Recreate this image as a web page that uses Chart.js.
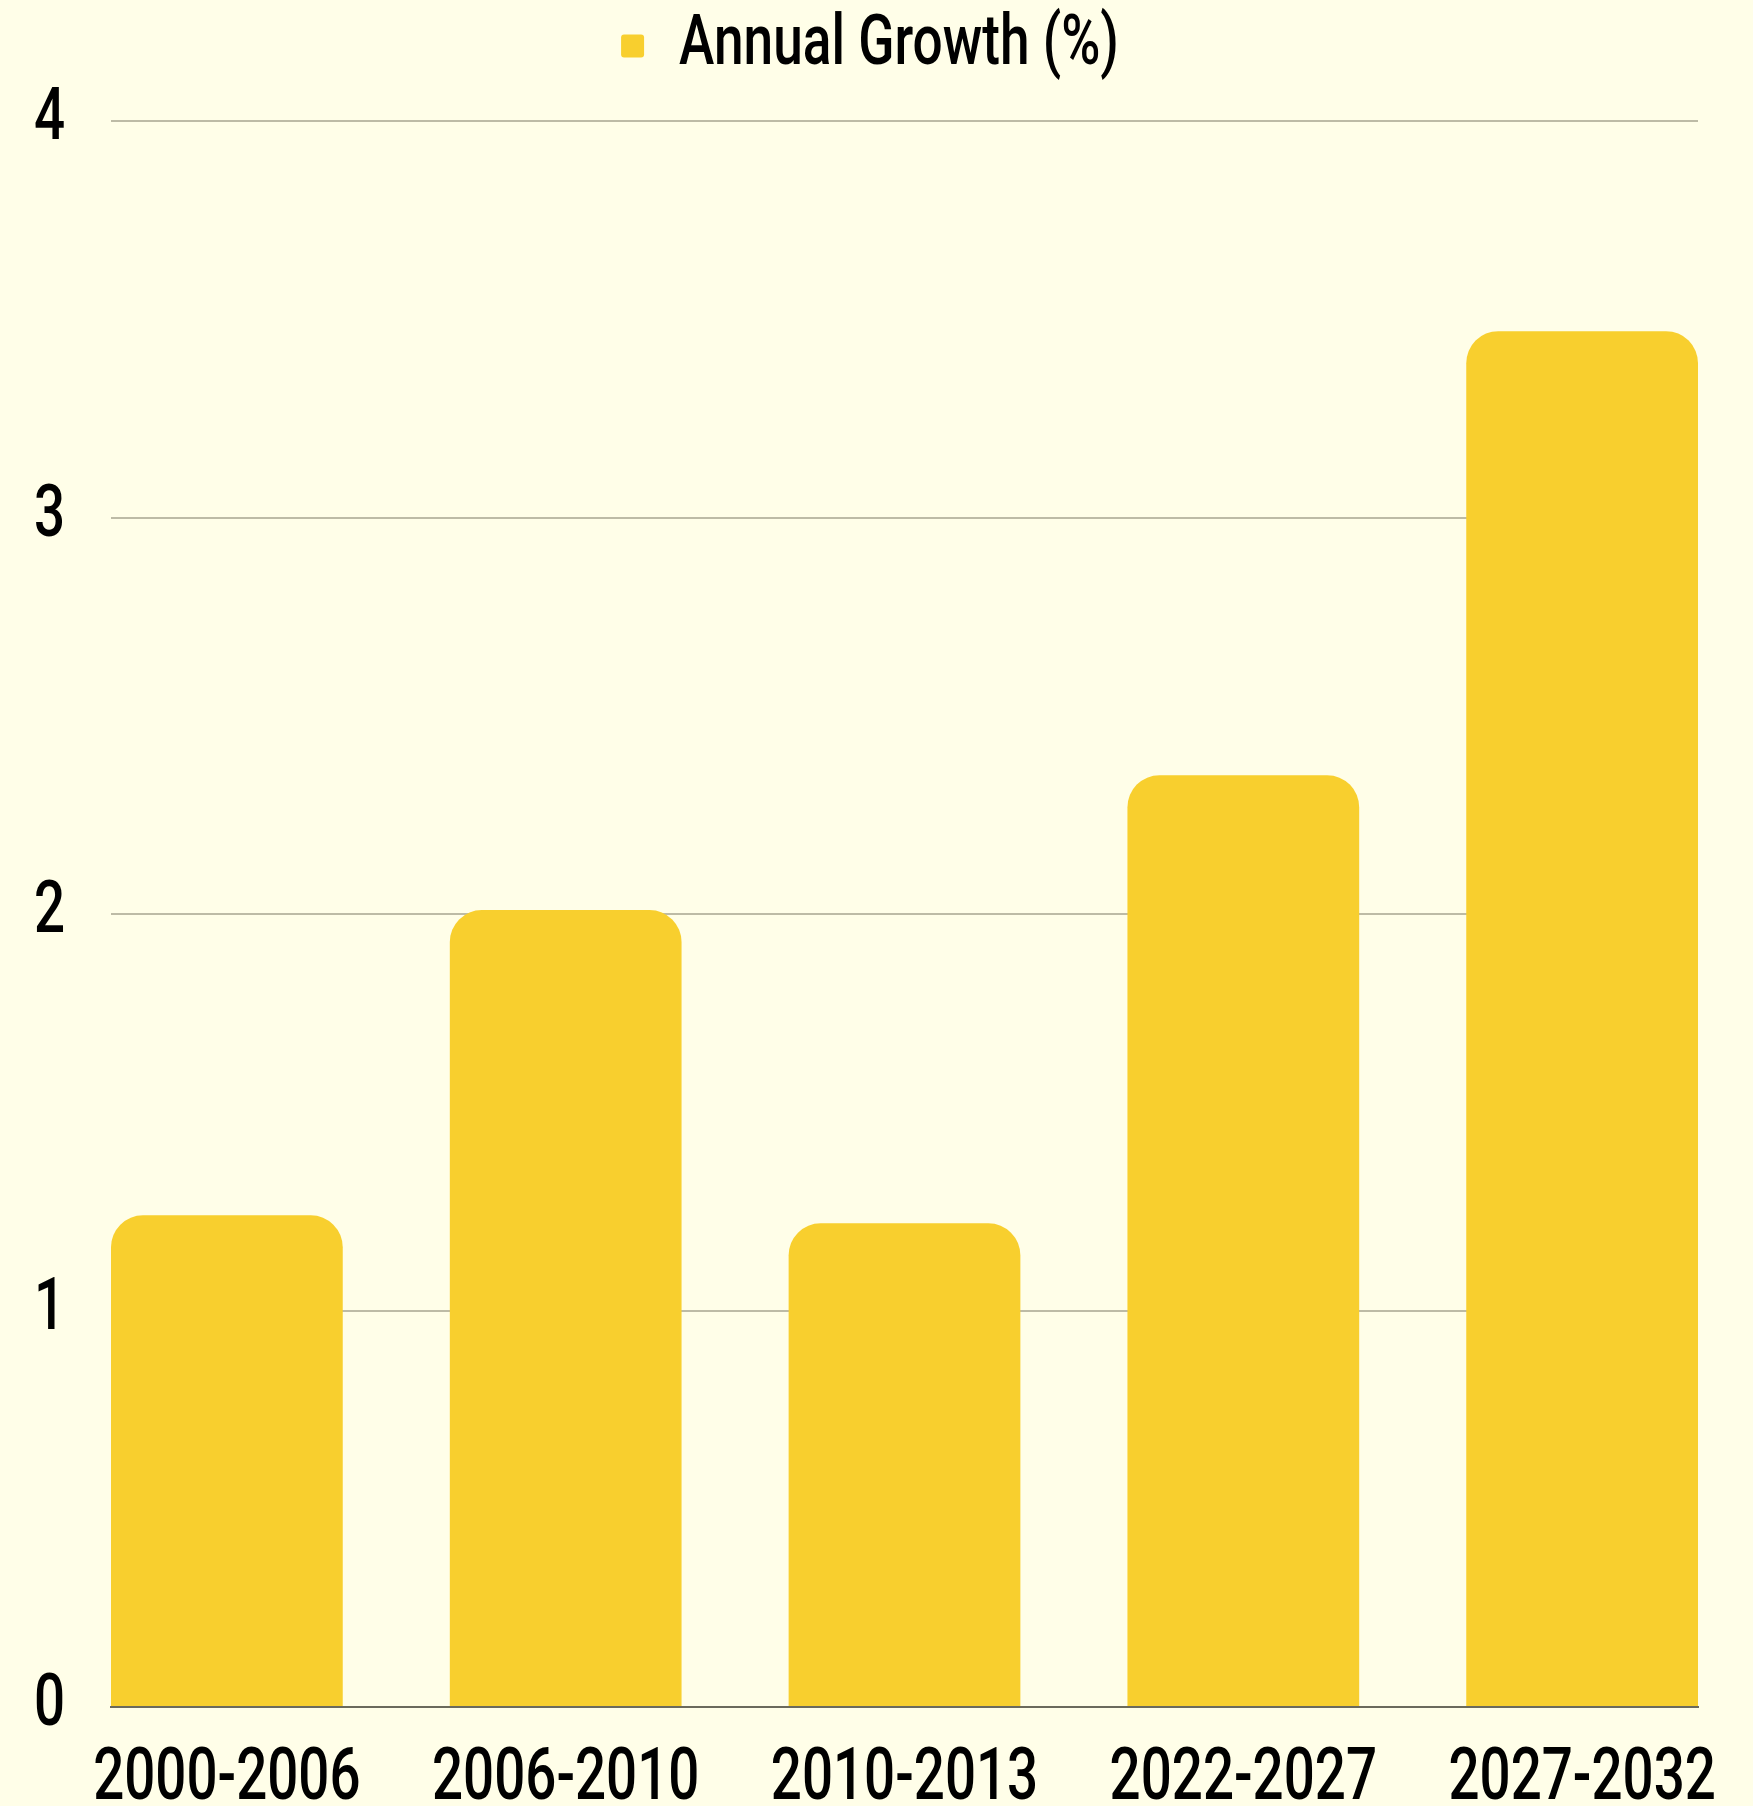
<!DOCTYPE html>
<html>
<head>
<meta charset="utf-8">
<script src="https://cdn.jsdelivr.net/npm/chart.js@4/dist/chart.umd.min.js"></script>
<style>
  html, body { margin: 0; padding: 0; background: #fffee8; }
  #wrap { width: 1753px; height: 1806px; }
</style>
</head>
<body>
<div id="wrap"><canvas id="growth" width="1753" height="1806"></canvas></div>
<script>
// Periods on the horizontal axis
const periods = ['2000-2006', '2006-2010', '2010-2013', '2022-2027', '2027-2032'];
// Average annual growth per period, in percent
const growth = [1.24, 2.01, 1.22, 2.35, 3.47];
// Value axis ticks
const yTicks = [0, 1, 2, 3, 4];

const FONT = "Roboto, 'Liberation Sans', Arial, sans-serif";
const WEIGHT = 500;
const INK = '#000000';
const BAR = '#f8cf2e';
const SQUEEZE = 0.76;   // horizontal compression for a condensed look
const LEGEND_BAND = 121; // height reserved for the legend above the plot

// bars sit on a numeric index axis so the outer bars are flush with the plot edges
const points = periods.map((p, i) => ({ x: i, y: growth[i] }));
const half = 0.342;

// draws all chart text horizontally condensed around its anchor point
const condensedText = {
  id: 'condensedText',
  beforeInit(chart) {
    const ctx = chart.ctx;
    const fill = ctx.fillText.bind(ctx);
    const measure = ctx.measureText.bind(ctx);
    ctx.fillText = function (t, x, y, w) {
      ctx.save();
      ctx.translate(x, y);
      ctx.scale(SQUEEZE, 1);
      if (w === undefined) fill(t, 0, 0); else fill(t, 0, 0, w / SQUEEZE);
      ctx.restore();
    };
    ctx.measureText = function (t) {
      const m = measure(t);
      return {
        width: m.width * SQUEEZE,
        actualBoundingBoxAscent: m.actualBoundingBoxAscent,
        actualBoundingBoxDescent: m.actualBoundingBoxDescent,
        actualBoundingBoxLeft: m.actualBoundingBoxLeft * SQUEEZE,
        actualBoundingBoxRight: m.actualBoundingBoxRight * SQUEEZE
      };
    };
  },
  // keep the legend row near the top while reserving a fixed band above the plot
  beforeLayout(chart) {
    const lg = chart.legend;
    if (lg && !lg._band) {
      const fit = lg.fit.bind(lg);
      lg.fit = function () { fit(); this.height = LEGEND_BAND; };
      lg._band = true;
    }
  }
};

const paper = {
  id: 'paper',
  beforeDraw(chart) {
    const { ctx, width, height } = chart;
    ctx.save();
    ctx.fillStyle = '#fffee8';
    ctx.fillRect(0, 0, width, height);
    ctx.restore();
  }
};

new Chart(document.getElementById('growth'), {
  type: 'bar',
  data: {
    datasets: [{
      label: 'Annual Growth (%)',
      data: points,
      backgroundColor: BAR,
      borderWidth: 0,
      borderRadius: { topLeft: 32, topRight: 32, bottomLeft: 0, bottomRight: 0 },
      borderSkipped: false,
      categoryPercentage: 0.684,
      barPercentage: 1.0
    }]
  },
  options: {
    responsive: false,
    animation: false,
    devicePixelRatio: 1,
    layout: { padding: { left: 0, right: 13, top: 0, bottom: 0 } },
    plugins: {
      legend: {
        display: true,
        position: 'top',
        labels: {
          color: INK,
          font: { family: FONT, size: 70, weight: WEIGHT },
          boxWidth: 23,
          boxHeight: 23,
          useBorderRadius: true,
          borderRadius: 3,
          padding: 11
        }
      },
      tooltip: { enabled: false }
    },
    scales: {
      x: {
        type: 'linear',
        offset: false,
        min: -half,
        max: periods.length - 1 + half,
        grid: { display: false, drawTicks: false },
        border: { display: true, color: '#6b6a5c', width: 2 },
        afterFit(scale) { scale.height = 99; scale.paddingRight = 55; },
        ticks: {
          stepSize: 1,
          includeBounds: false,
          autoSkip: false,
          maxRotation: 0,
          padding: 31,
          color: INK,
          font: { family: FONT, size: 72, weight: WEIGHT },
          callback: (v) => (Number.isInteger(v) && periods[v] !== undefined ? periods[v] : '')
        }
      },
      y: {
        min: yTicks[0],
        max: yTicks[yTicks.length - 1],
        grid: { color: '#bdbba6', lineWidth: 2, drawTicks: false },
        border: { display: false },
        afterFit(scale) { scale.width = 111; },
        afterBuildTicks(scale) { scale.ticks = yTicks.map(v => ({ value: v })); },
        ticks: {
          padding: 46,
          color: INK,
          font: { family: FONT, size: 72, weight: WEIGHT }
        }
      }
    }
  },
  plugins: [condensedText, paper]
});
</script>
</body>
</html>
